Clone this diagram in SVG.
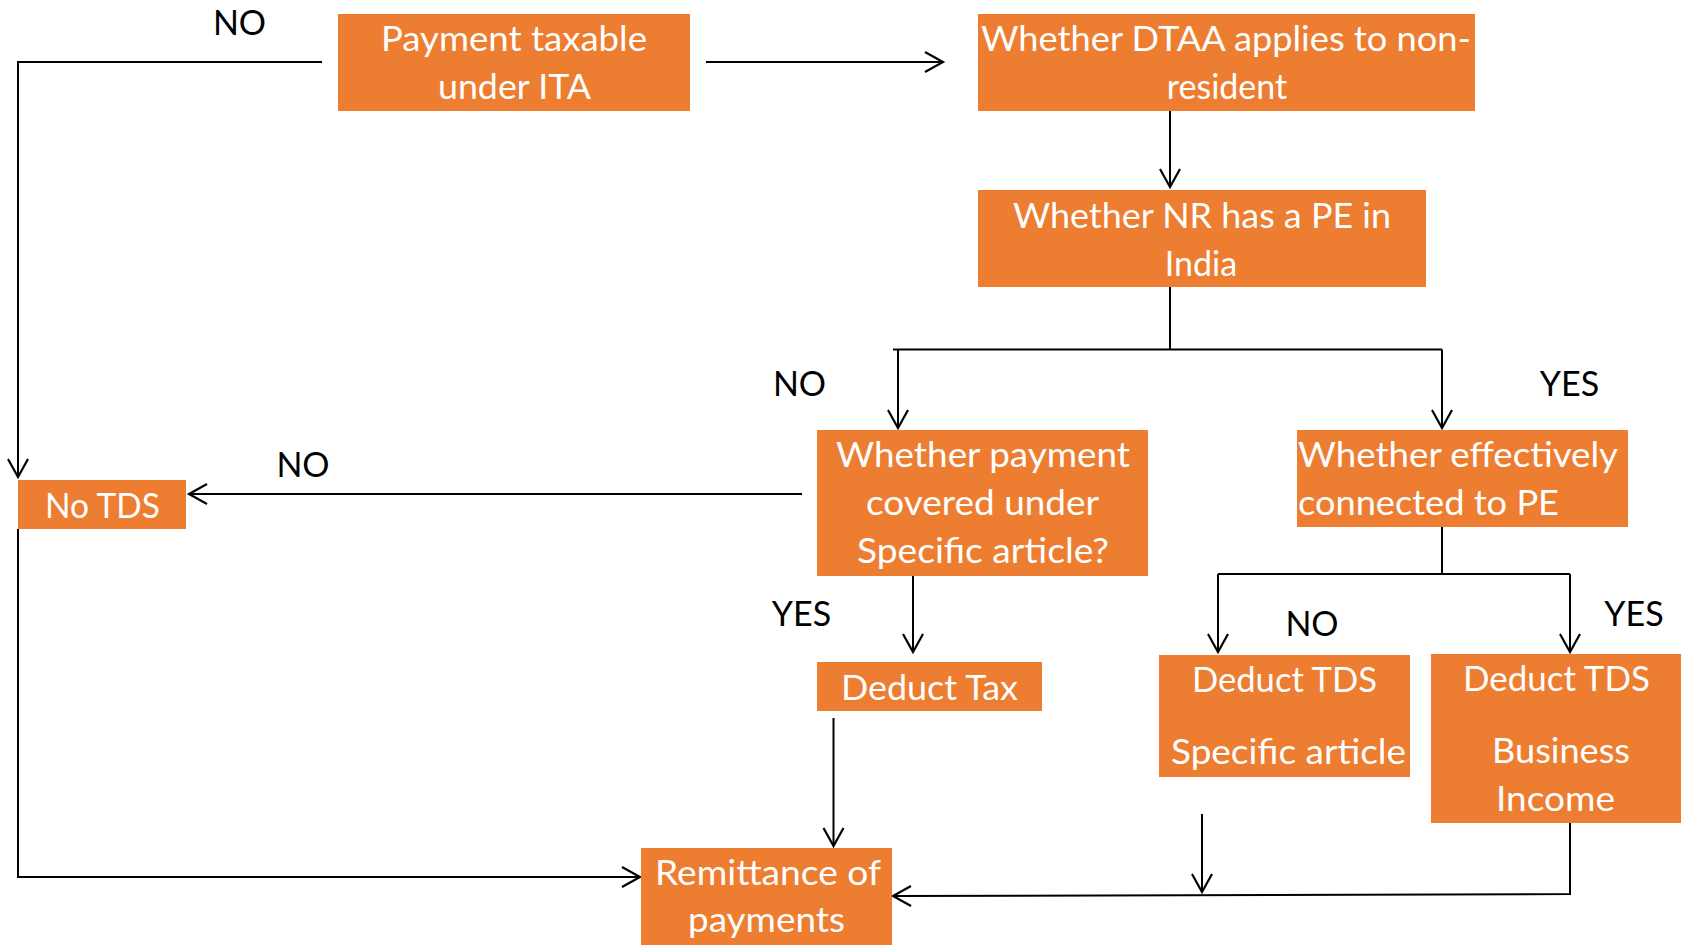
<svg xmlns="http://www.w3.org/2000/svg" width="1684" height="945" viewBox="0 0 1684 945">
<style>
.box{fill:#ED7D31}
.t{font-family:Lato,"Liberation Sans",sans-serif;font-size:34px;fill:#FFFFFF;text-anchor:middle}
.l{font-family:Lato,"Liberation Sans",sans-serif;font-size:34px;fill:#000000;text-anchor:middle}
.c{fill:none;stroke:#000000;stroke-width:2}
</style>
<defs>
<marker id="ah" markerUnits="userSpaceOnUse" markerWidth="24" markerHeight="24" viewBox="-20 -12 24 24" refX="0" refY="0" orient="auto">
<path d="M-18,-10 L0,0 L-18,10" fill="none" stroke="#000" stroke-width="2.2"/>
</marker>
</defs>
<rect width="1684" height="945" fill="#FFFFFF"/>
<g id="connectors">
<path class="c" d="M322,62 L18,62 L18,477" marker-end="url(#ah)"/>
<path class="c" d="M706,62 L943,62" marker-end="url(#ah)"/>
<path class="c" d="M1170,111 L1170,187" marker-end="url(#ah)"/>
<path class="c" d="M1170,287 L1170,349.5"/>
<path class="c" d="M893,349.5 L1442,349.5"/>
<path class="c" d="M898,349.5 L898,428" marker-end="url(#ah)"/>
<path class="c" d="M1442,349.5 L1442,428" marker-end="url(#ah)"/>
<path class="c" d="M802,494 L189,494" marker-end="url(#ah)"/>
<path class="c" d="M913,576 L913,652" marker-end="url(#ah)"/>
<path class="c" d="M1442,527 L1442,574 M1218,574 L1570,574"/>
<path class="c" d="M1218,574 L1218,652" marker-end="url(#ah)"/>
<path class="c" d="M1570,574 L1570,652" marker-end="url(#ah)"/>
<path class="c" d="M833.5,718 L833.5,846" marker-end="url(#ah)"/>
<path class="c" d="M18,529 L18,877 L640,877" marker-end="url(#ah)"/>
<path class="c" d="M1570,815 L1570,894 L893,896" marker-end="url(#ah)"/>
<path class="c" d="M1202,814 L1202,892" marker-end="url(#ah)"/>
</g>
<g id="labels">
<text class="l" x="239.5" y="35">NO</text>
<text class="l" x="799.5" y="396">NO</text>
<text class="l" x="1569.5" y="396">YES</text>
<text class="l" x="303" y="477">NO</text>
<text class="l" x="801.5" y="626">YES</text>
<text class="l" x="1312" y="636">NO</text>
<text class="l" x="1634" y="626">YES</text>
</g>
<g id="n1">
<rect class="box" x="338" y="14" width="352" height="97"/>
<text class="t" x="514" y="51" textLength="266" lengthAdjust="spacingAndGlyphs">Payment taxable</text>
<text class="t" x="514.5" y="99" textLength="153" lengthAdjust="spacingAndGlyphs">under ITA</text>
</g>
<g id="n2">
<rect class="box" x="978" y="14" width="497" height="97"/>
<text class="t" x="1226" y="51" textLength="490" lengthAdjust="spacingAndGlyphs">Whether DTAA applies to non-</text>
<text class="t" x="1227" y="99">resident</text>
</g>
<g id="n3">
<rect class="box" x="978" y="190" width="448" height="97"/>
<text class="t" x="1202" y="228" textLength="378" lengthAdjust="spacingAndGlyphs">Whether NR has a PE in</text>
<text class="t" x="1201" y="276">India</text>
</g>
<g id="n4">
<rect class="box" x="817" y="430" width="331" height="146"/>
<text class="t" x="983" y="467" textLength="294" lengthAdjust="spacingAndGlyphs">Whether payment</text>
<text class="t" x="982.5" y="515" textLength="233" lengthAdjust="spacingAndGlyphs">covered under</text>
<text class="t" x="983" y="563" textLength="252" lengthAdjust="spacingAndGlyphs">Specific article?</text>
</g>
<g id="n5">
<rect class="box" x="1297" y="430" width="331" height="97"/>
<text class="t" x="1458" y="467" textLength="320" lengthAdjust="spacingAndGlyphs">Whether effectively</text>
<text class="t" x="1428.5" y="515" textLength="261" lengthAdjust="spacingAndGlyphs">connected to PE</text>
</g>
<g id="n6">
<rect class="box" x="18" y="480" width="168" height="49"/>
<text class="t" x="102.5" y="518" textLength="115" lengthAdjust="spacingAndGlyphs">No TDS</text>
</g>
<g id="n7">
<rect class="box" x="817" y="662" width="225" height="49"/>
<text class="t" x="929.5" y="700" textLength="177" lengthAdjust="spacingAndGlyphs">Deduct Tax</text>
</g>
<g id="n8">
<rect class="box" x="1159" y="655" width="251" height="122"/>
<text class="t" x="1284.5" y="692" textLength="185" lengthAdjust="spacingAndGlyphs">Deduct TDS</text>
<text class="t" x="1288.5" y="764" textLength="235" lengthAdjust="spacingAndGlyphs">Specific article</text>
</g>
<g id="n9">
<rect class="box" x="1431" y="654" width="250" height="169"/>
<text class="t" x="1556.5" y="691" textLength="187" lengthAdjust="spacingAndGlyphs">Deduct TDS</text>
<text class="t" x="1561" y="763" textLength="138" lengthAdjust="spacingAndGlyphs">Business</text>
<text class="t" x="1555.5" y="811" textLength="119" lengthAdjust="spacingAndGlyphs">Income</text>
</g>
<g id="n10">
<rect class="box" x="641" y="848" width="251" height="97"/>
<text class="t" x="768" y="885" textLength="226" lengthAdjust="spacingAndGlyphs">Remittance of</text>
<text class="t" x="766.5" y="932" textLength="157" lengthAdjust="spacingAndGlyphs">payments</text>
</g>
</svg>
